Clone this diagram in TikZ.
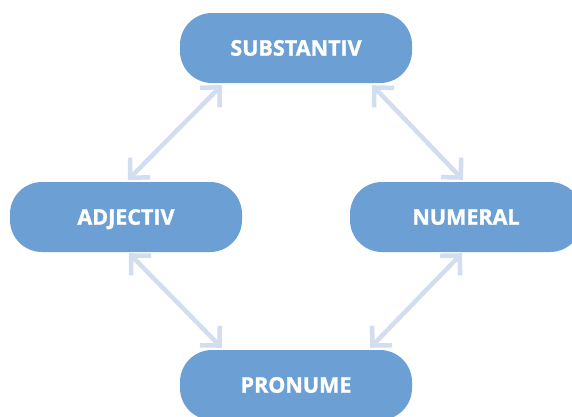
\documentclass[tikz,border=0pt]{standalone}
\usepackage{fontspec}
\setmainfont{Open Sans}
\newfontfamily\heavy{Open Sans}[BoldFeatures={FakeBold=1.4}]
\usetikzlibrary{arrows.meta}
\definecolor{boxblue}{HTML}{6C9FD3}
\definecolor{arrowblue}{HTML}{D2DEF0}
\tikzset{
  pill/.style={fill=boxblue, draw=none, rounded corners=32pt, minimum width=232pt, minimum height=70pt, inner sep=0pt,
    text height=15.3pt, text depth=0pt,
    text=white, font=\heavy\fontsize{21.5}{24}\selectfont\bfseries},
  link/.style={draw=arrowblue, line width=4.5pt,
    {Straight Barb[length=14pt,width=28pt,line width=4.5pt]}-{Straight Barb[length=14pt,width=28pt,line width=4.5pt]}}
}
\begin{document}
\begin{tikzpicture}[x=1pt,y=-1pt]
\clip (0,0) rectangle (572,416);
\fill[white] (0,0) rectangle (572,416);
\node[pill] (S) at (296,48) {SUBSTANTIV};
\node[pill] (A) at (126,217) {ADJECTIV};
\node[pill] (N) at (466,217) {NUMERAL};
\node[pill] (P) at (296,385) {PRONUME};
\draw[link] ([xshift=42pt,yshift=-2pt]S.south west) -- ([xshift=2pt,yshift=2pt]A.north);
\draw[link] ([xshift=-40pt,yshift=-2pt]S.south east) -- ([xshift=-3pt,yshift=2pt]N.north);
\draw[link] ([xshift=3pt,yshift=-1pt]A.south) -- ([xshift=42pt,yshift=2pt]P.north west);
\draw[link] ([xshift=-4pt,yshift=-1pt]N.south) -- ([xshift=-42pt,yshift=2pt]P.north east);
\end{tikzpicture}
\end{document}
